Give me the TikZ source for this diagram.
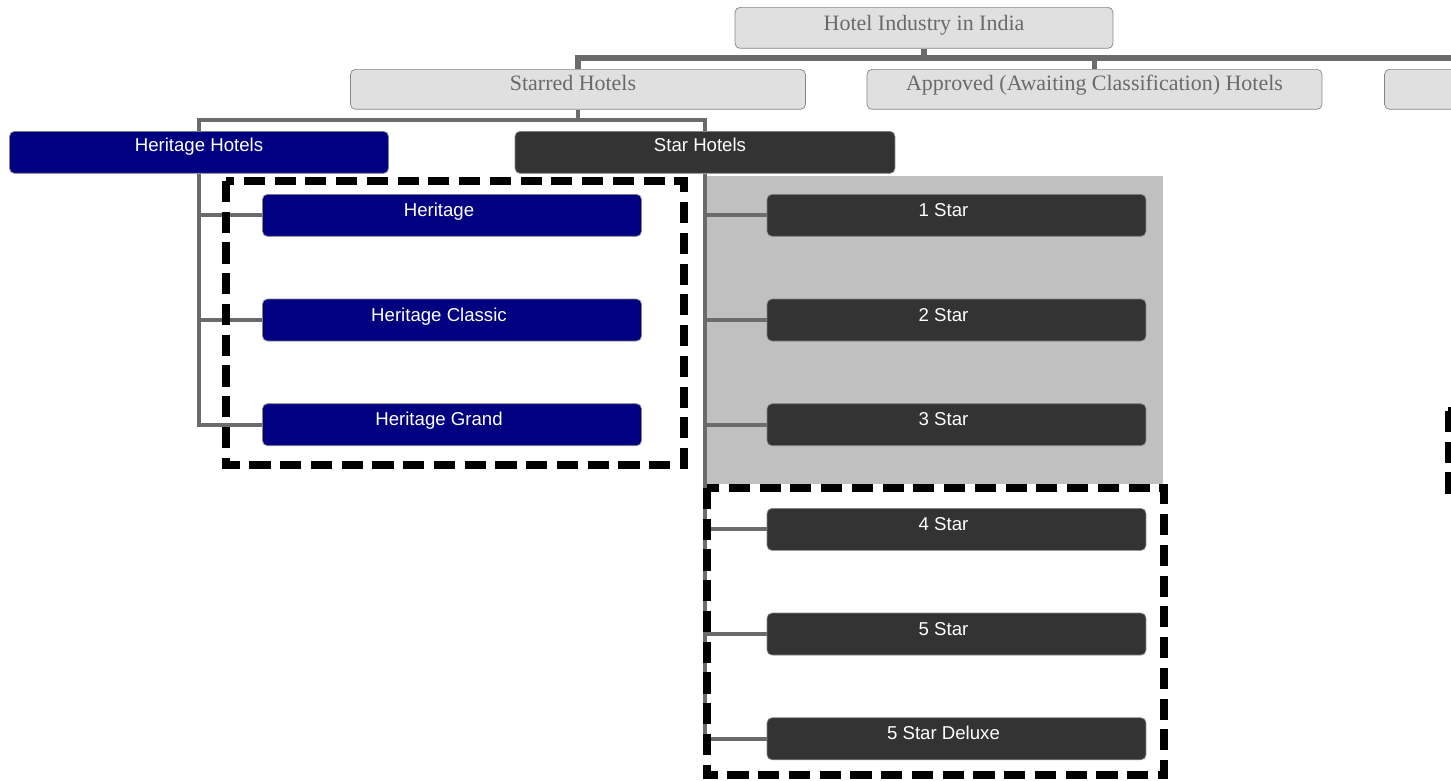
\documentclass[tikz,border=0pt]{standalone}
\usepackage{fontspec}
\setmainfont{Liberation Serif}
\newfontfamily\arialfont{Liberation Sans}
\usetikzlibrary{positioning,backgrounds}
\definecolor{boxgray}{HTML}{E0E0E0}
\definecolor{edgegray}{HTML}{858585}
\definecolor{labelgray}{HTML}{6A6A6A}
\definecolor{navyfill}{HTML}{000080}
\definecolor{darkfill}{HTML}{333333}
\definecolor{linkgray}{HTML}{6B6B6B}
\definecolor{bandgray}{HTML}{C0C0C0}

\begin{document}
\begin{tikzpicture}[
    x=0.02cm, y=-0.02cm,
    node distance=1.24cm and 1cm,
    cat/.style={rectangle,rounded corners=0.1cm,draw=edgegray,fill=boxgray,text=labelgray,font=\fontsize{12.5}{14}\selectfont,minimum width=9.1cm,inner ysep=0pt,text height=0.42cm,text depth=0.38cm,anchor=north},
    grade/.style={rectangle,rounded corners=0.1cm,draw=edgegray,text=white,font=\arialfont\fontsize{10.6}{12}\selectfont,minimum width=7.58cm,inner ysep=0pt,text height=0.44cm,text depth=0.40cm,anchor=north},
    navy/.style={grade,fill=navyfill},
    dark/.style={grade,fill=darkfill},
    shifted/.style={execute at end node=\hspace*{0.52cm}},
    link/.style={draw=linkgray,line width=2.3pt},
    frame/.style={draw=black,line width=4pt,dash pattern=on 12pt off 5.5pt}
]
\clip (0,0) rectangle (1451,781);

% categories
\node[cat,minimum width=7.56cm,text height=0.46cm,text depth=0.36cm] (india) at (924,7) {Hotel Industry in India};
\node[cat,execute at end node=\hspace*{0.2cm}] (starred) at (578,69) {Starred Hotels};
\node[cat] (approved) at (1094.5,69) {Approved (Awaiting Classification) Hotels};
\node[cat] (other) at (1612,69) {};

\node[navy,text height=0.40cm,text depth=0.44cm] (herit) at (199,131) {Heritage Hotels};
\node[dark,minimum width=7.6cm,text height=0.40cm,text depth=0.44cm,execute at end node=\hspace*{0.2cm}] (starh) at (705,131) {Star Hotels};

% heritage grades
\node[navy,shifted] (h1) at (452,194) {Heritage};
\node[navy,shifted,below=of h1] (h2) {Heritage Classic};
\node[navy,shifted,below=of h2] (h3) {Heritage Grand};

% star grades
\node[dark,shifted] (s1) at (956.5,194) {1 Star};
\node[dark,shifted,below=of s1] (s2) {2 Star};
\node[dark,shifted,below=of s2] (s3) {3 Star};
\node[dark,shifted,below=of s3] (s4) {4 Star};
\node[dark,shifted,below=of s4] (s5) {5 Star};
\node[dark,shifted,below=of s5] (s6) {5 Star Deluxe};

\begin{scope}[on background layer]
\fill[bandgray] (705,176) rectangle (1163,484);
\coordinate (topbus) at (924,58);
\coordinate (midbus) at (578,120);
\draw[link,line width=3pt] (india.south) -- (topbus);
\draw[link,line width=3pt] (starred.north) |- (topbus) -| (other.north);
\draw[link,line width=3pt] (approved.north) -- (approved.north |- topbus);
\draw[link] (starred.south) -- (midbus);
\draw[link] (herit.north) |- (midbus) -| (starh.north);
\draw[link] (herit.south) |- (h3.west);
\draw[link] (h1.west) -- (h1.west -| herit.south); \draw[link] (h2.west) -- (h2.west -| herit.south);
\draw[link] (starh.south) |- (s6.west);
\draw[link] (s1.west) -- (s1.west -| starh.south); \draw[link] (s2.west) -- (s2.west -| starh.south);
\draw[link] (s3.west) -- (s3.west -| starh.south); \draw[link] (s4.west) -- (s4.west -| starh.south);
\draw[link] (s5.west) -- (s5.west -| starh.south);
\end{scope}

% highlight frames
\draw[frame] (226,181) rectangle (684,465);
\draw[frame] (707,488) rectangle (1164,775);
\draw[frame] (1448,411) rectangle (1700,490);
\end{tikzpicture}
\end{document}
